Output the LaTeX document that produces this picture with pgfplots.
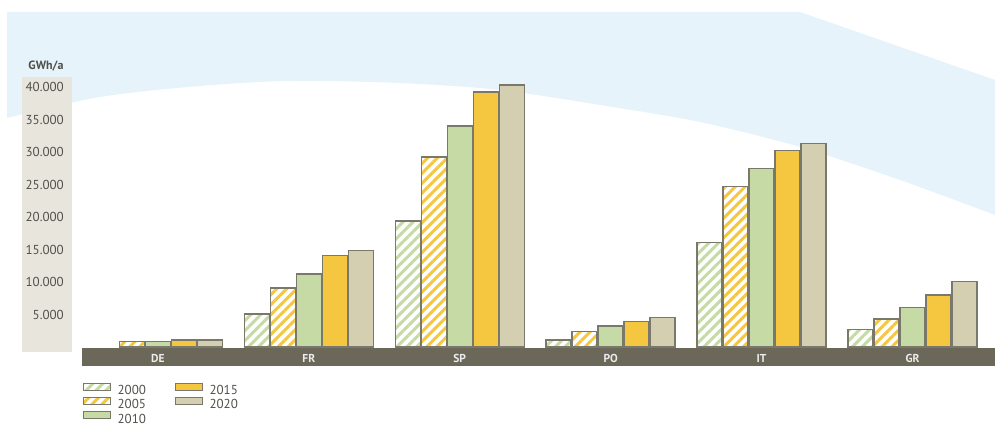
\documentclass[border=0pt]{standalone}
\usepackage{pgfplots}
\pgfplotsset{compat=1.18}
\usepackage{pgfplotstable}
\usepackage{fontspec}
\setmainfont{PT Sans}
\usetikzlibrary{patterns.meta}
\definecolor{bluebg}{RGB}{230,243,251}
\definecolor{panel}{RGB}{232,230,220}
\definecolor{bandc}{RGB}{107,104,90}
\definecolor{border}{RGB}{122,120,106}
\definecolor{cgreen}{RGB}{197,218,165}
\definecolor{cyellow}{RGB}{245,198,64}
\definecolor{cbeige}{RGB}{212,207,177}
\definecolor{txt}{RGB}{80,80,74}

\pgfplotstableread{
x y
1 5100
2 19400
3 1050
4 16100
5 2700
}\dataA
\pgfplotstableread{
x y
0 800
1 9050
2 29200
3 2400
4 24700
5 4300
}\dataB
\pgfplotstableread{
x y
0 800
1 11200
2 34000
3 3200
4 27500
5 6100
}\dataC
\pgfplotstableread{
x y
0 1100
1 14100
2 39200
3 3950
4 30200
5 8000
}\dataD
\pgfplotstableread{
x y
0 1050
1 14800
2 40300
3 4550
4 31300
5 10100
}\dataE

\pgfplotsset{mybar/.style={ybar, bar width=0.1657, draw=border, line width=1.4pt,
  legend image code/.code={\draw[##1, line width=1.1pt] (0pt,0.5pt) rectangle (27pt,7.3pt);}}}

\begin{document}
\begin{tikzpicture}[x=1pt,y=1pt]
\path[use as bounding box] (0,0) rectangle (995,427);
\fill[bluebg] (7,415) -- (800,415) -- (995,347) -- (995,212) -- plot[smooth] coordinates {(995,212) (900,247) (800,280) (700,305) (600,322) (500,337) (400,344) (290,346) (200,341) (100,330) (7,309)} -- cycle;
\fill[panel] (22,75) rectangle (72,350);
\fill[bandc] (82,61) rectangle (995,79);
\node[font=\bfseries\fontsize{12}{14}\selectfont, text=txt] at (46,360.5) {GWh/a};
\begin{axis}[
  at={(82pt,80pt)}, anchor=south west, scale only axis,
  width=913pt, height=292.5pt,
  xmin=-0.503, xmax=5.547, ymin=0, ymax=45000,
  clip=false,
  axis line style={draw=none}, major tick length=0pt,
  xtick={0,1,2,3,4,5}, xticklabels={DE,FR,SP,PO,IT,GR},
  xticklabel style={anchor=center, yshift=-11pt, text=white!92!black, font=\bfseries\fontsize{11.5}{12}\selectfont},
  ytick={5000,10000,15000,20000,25000,30000,35000,40000},
  scaled y ticks=false,
  yticklabel style={anchor=east, inner sep=0pt, xshift=-18pt, text=txt, font=\fontsize{13}{15}\selectfont,
    /pgf/number format/1000 sep={.}, /pgf/number format/assume math mode=true},
  legend columns=2,
  legend cell align=left,
  legend style={at={(axis description cs:0.0011,-0.1225)}, anchor=north west, draw=none, fill=none,
    inner sep=0pt, outer sep=0pt, row sep=1pt,
    nodes={inner sep=0pt, text=txt, font=\fontsize{13}{15}\selectfont},
    /tikz/every odd column/.append style={column sep=6.5pt},
    /tikz/every even column/.append style={column sep=29pt}},
]
\addplot[mybar, bar shift=-0.3446, fill=white, postaction={pattern={Lines[angle=45,distance=7pt,line width=3pt]}, pattern color=cgreen}] table[x=x,y=y] {\dataA};
\addlegendentry{2000}
\addplot[mybar, bar shift=0.1723, fill=cyellow] table[x=x,y=y] {\dataD};
\addlegendentry{2015}
\addplot[mybar, bar shift=-0.1723, fill=white, postaction={pattern={Lines[angle=45,distance=7pt,line width=3pt]}, pattern color=cyellow}] table[x=x,y=y] {\dataB};
\addlegendentry{2005}
\addplot[mybar, bar shift=0.3446, fill=cbeige] table[x=x,y=y] {\dataE};
\addlegendentry{2020}
\addplot[mybar, bar shift=0, fill=cgreen] table[x=x,y=y] {\dataC};
\addlegendentry{2010}
\end{axis}
\end{tikzpicture}
\end{document}
